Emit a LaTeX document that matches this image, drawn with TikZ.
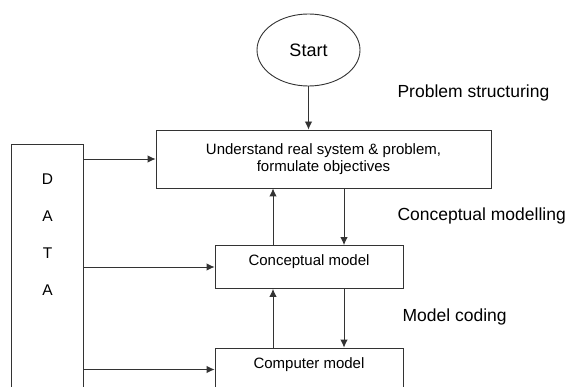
\documentclass[tikz,border=0pt]{standalone}
\usepackage{fontspec}
\setmainfont{Liberation Sans}
\usetikzlibrary{shapes.geometric,arrows.meta}

\tikzset{
  flow/.style={draw=black!80,line width=0.9pt},
  box/.style={flow,rectangle,inner sep=0pt,align=center,
    font=\fontsize{15}{16.5}\selectfont},
  pbox/.style={box,minimum width=188pt,text height=20pt,text depth=23pt},
  stage/.style={anchor=west,font=\fontsize{17.5}{20}\selectfont},
  arr/.style={flow,-{Latex[length=8pt,width=7.5pt]}}
}

\begin{document}
\begin{tikzpicture}[x=1pt,y=-1pt]
  \useasboundingbox (0,0) rectangle (569,387);
  \clip (0,0) rectangle (569,387);
  \fill[white] (0,0) rectangle (569,387);
  % boxes
  \node[flow,ellipse,minimum width=103pt,minimum height=72pt,
    font=\fontsize{18}{21}\selectfont] (start) at (308.5,50) {Start};
  \node[box,minimum width=335pt,minimum height=58pt] (understand) at (323.5,159)
    {Understand real system \& problem,\\formulate objectives};
  \node[pbox] (concept) at (309,267) {Conceptual model};
  \node[pbox] (computer) at (309,369.5) {Computer model};
  \node[flow,minimum width=72pt,minimum height=300pt] (data) at (47,294) {};
  \foreach \l [count=\i] in {D,A,T,A}
    \node[font=\fontsize{15.5}{18}\selectfont] (data\i) at (47.5,142+37*\i) {\l};
  % stage labels
  \node[stage] (ps) at (394,93) {Problem structuring};
  \node[stage] (cm) at (394,216) {Conceptual modelling};
  \node[stage] (mc) at (399,317) {Model coding};
  % arrows
  \draw[arr] (start) -- (start |- understand.north);
  \draw[arr] (data.east |- understand) -- (understand.west);
  \draw[arr] (data.east |- concept) -- (concept.west);
  \draw[arr] (data.east |- computer) -- (computer.west);
  \draw[arr] ([xshift=35pt]concept.north |- understand.south) -- ([xshift=35pt]concept.north);
  \draw[arr] ([xshift=-36pt]concept.north) -- ([xshift=-36pt]concept.north |- understand.south);
  \draw[arr] ([xshift=35pt]concept.south) -- ([xshift=35pt]computer.north);
  \draw[arr] ([xshift=-36pt]computer.north) -- ([xshift=-36pt]concept.south);
\end{tikzpicture}
\end{document}
